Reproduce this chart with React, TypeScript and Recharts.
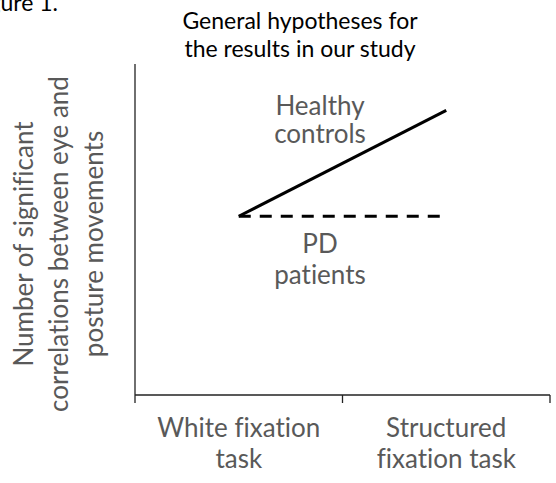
import React from "react";
import { LineChart, Line, XAxis, YAxis, Customized } from "recharts";

const categoryLabels = [
  ["White fixation", "task"],
  ["Structured", "fixation task"],
];
const healthyControls = [5.4, 8.6];
const pdPatients = [5.4, 5.4];
const titleLines = ["General hypotheses for", "the results in our study"];
const yLabelLines = [
  "Number of significant",
  "correlations between eye and",
  "posture movements",
];

// x = i + 0.5 puts each category in the middle of its band, boundaries at integers
const data = categoryLabels.map((c, i) => ({
  x: i + 0.5,
  healthy: healthyControls[i],
  pd: pdPatients[i],
}));

const FONT = "Lato, 'Open Sans', sans-serif";
const GREY = "#595959";
const noLig = { fontVariantLigatures: "none" as const };

function CategoryTick(props: any) {
  const { x, y, payload } = props;
  const v = payload.value as number;
  if (Number.isInteger(v)) {
    return <line x1={x} x2={x} y1={y - 8} y2={y} stroke="#222" strokeWidth={1.3} />;
  }
  const lines = categoryLabels[Math.floor(v)];
  return (
    <text textAnchor="middle" fill={GREY} fontSize={26} fontFamily={FONT} style={noLig}>
      {lines.map((l, i) => (
        <tspan key={i} x={x} y={y + 34 + i * 31}>
          {l}
        </tspan>
      ))}
    </text>
  );
}

function Annotations() {
  return (
    <g fontFamily={FONT} style={noLig}>
      <text x={58} y={11} textAnchor="end" fontSize={23} fill="#000">
        Figure 1.
      </text>
      <text textAnchor="middle" fontSize={23} fill="#000">
        {titleLines.map((l, i) => (
          <tspan key={i} x={300} y={29 + i * 28}>
            {l}
          </tspan>
        ))}
      </text>
      <text textAnchor="middle" fontSize={26} fill={GREY}>
        <tspan x={320} y={115}>Healthy</tspan>
        <tspan x={320} y={143}>controls</tspan>
      </text>
      <text textAnchor="middle" fontSize={26} fill={GREY}>
        <tspan x={320} y={253}>PD</tspan>
        <tspan x={320} y={284}>patients</tspan>
      </text>
      {yLabelLines.map((l, i) => {
        const bx = 33 + i * 35;
        return (
          <text
            key={i}
            x={bx}
            y={244}
            transform={`rotate(-90 ${bx} 244)`}
            textAnchor="middle"
            fontSize={26}
            fill={GREY}
          >
            {l}
          </text>
        );
      })}
    </g>
  );
}

export default function App() {
  return (
    <div style={{ position: "absolute", left: 0, top: 0, background: "#fff" }}>
      <LineChart
        width={556}
        height={483}
        data={data}
        margin={{ top: 64, right: 6, bottom: 8, left: 134 }}
      >
        <XAxis
          dataKey="x"
          type="number"
          domain={[0, 2]}
          ticks={[0, 0.5, 1, 1.5, 2]}
          interval={0}
          height={80}
          tickSize={8}
          tickMargin={0}
          tickLine={false}
          axisLine={{ stroke: "#222", strokeWidth: 1.3 }}
          tick={<CategoryTick />}
        />
        <YAxis
          type="number"
          domain={[0, 10]}
          width={1}
          tick={false}
          tickLine={false}
          axisLine={{ stroke: "#222", strokeWidth: 1.3 }}
        />
        <Line
          dataKey="healthy"
          type="linear"
          stroke="#000"
          strokeWidth={3}
          dot={false}
          isAnimationActive={false}
        />
        <Line
          dataKey="pd"
          type="linear"
          stroke="#000"
          strokeWidth={3}
          strokeDasharray="12 9"
          dot={false}
          isAnimationActive={false}
        />
        <Customized component={<Annotations />} />
      </LineChart>
    </div>
  );
}
